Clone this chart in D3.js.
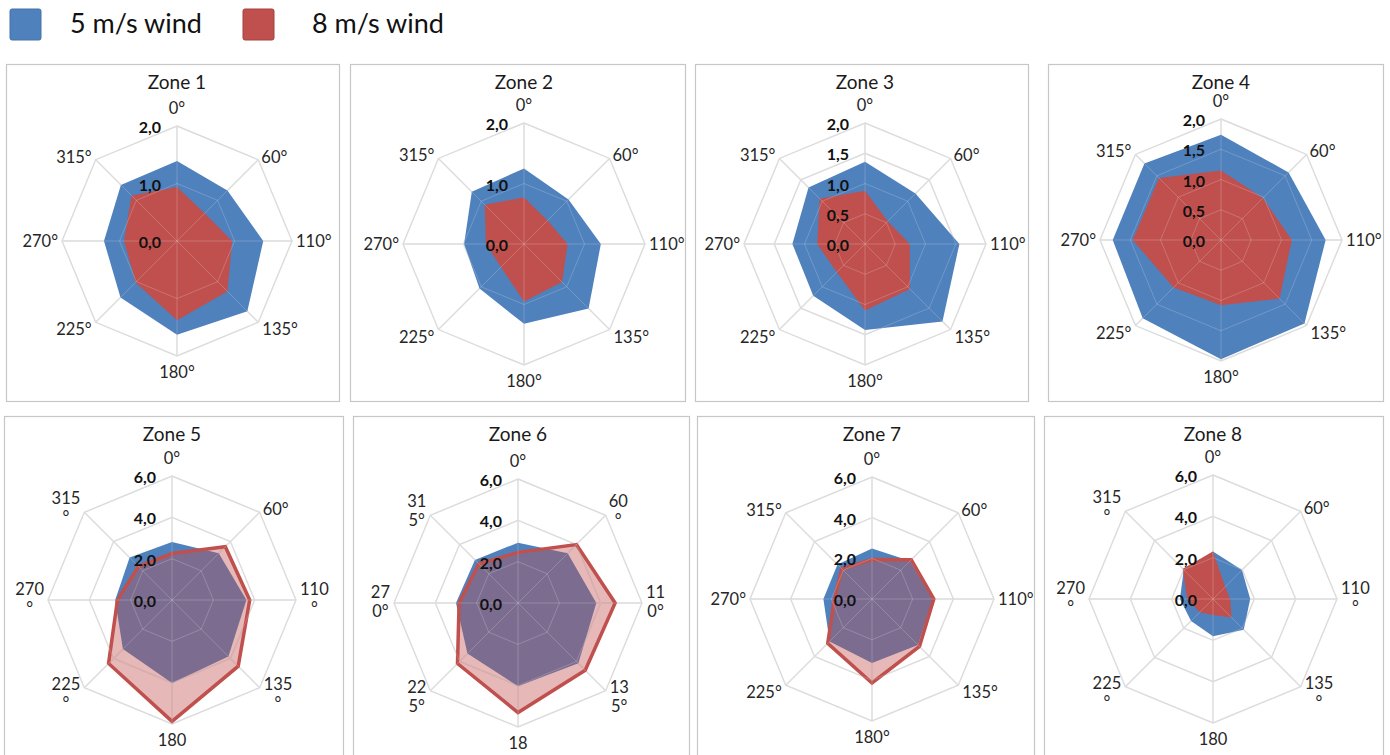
<!DOCTYPE html>
<html><head><meta charset="utf-8">
<script src="https://cdn.jsdelivr.net/npm/d3@7"></script>
<style>body{margin:0;background:#fff}svg{display:block}</style>
</head><body>
<svg id="c" width="1390" height="755"></svg>
<script>
// ---------- data ----------
const directions = ["0°","60°","110°","135°","180°","225°","270°","315°"];
const zoneNames = ["Zone 1","Zone 2","Zone 3","Zone 4","Zone 5","Zone 6","Zone 7","Zone 8"];
const seriesNames = ["5 m/s wind","8 m/s wind"];

const zone1_5 = [1.39, 1.24, 1.50, 1.73, 1.63, 1.39, 1.27, 1.38];
const zone1_8 = [0.94, 0.68, 0.96, 1.24, 1.38, 1.02, 0.92, 1.12];
const zone2_5 = [1.25, 1.04, 1.27, 1.51, 1.32, 1.04, 0.99, 1.22];
const zone2_8 = [0.77, 0.55, 0.72, 0.89, 0.95, 0.54, 0.63, 0.92];
const zone3_5 = [1.36, 1.18, 1.56, 1.81, 1.42, 1.21, 1.20, 1.32];
const zone3_8 = [0.88, 0.53, 0.74, 1.05, 1.10, 0.66, 0.79, 1.06];
const zone4_5 = [1.74, 1.58, 1.73, 1.95, 1.97, 1.83, 1.79, 1.79];
const zone4_8 = [1.15, 0.98, 1.17, 1.37, 1.08, 1.11, 1.46, 1.45];
const zone5_5 = [2.81, 3.20, 3.60, 3.86, 4.02, 3.36, 2.75, 2.90];
const zone5_8 = [2.25, 3.65, 3.76, 4.53, 5.87, 4.34, 2.64, 2.30];
const zone6_5 = [2.92, 3.40, 3.79, 4.13, 4.03, 3.46, 3.00, 2.95];
const zone6_8 = [2.45, 4.00, 4.70, 4.60, 5.30, 4.14, 2.85, 2.68];
const zone7_5 = [2.48, 2.65, 3.00, 3.20, 3.15, 2.95, 2.39, 2.40];
const zone7_8 = [1.94, 2.73, 3.04, 3.30, 4.13, 3.08, 1.85, 2.10];
const zone8_5 = [2.30, 1.98, 1.80, 2.10, 1.80, 1.50, 1.60, 2.00];
const zone8_8 = [2.30, 0.83, 0.83, 1.27, 0.78, 0.90, 1.25, 2.07];

const ticksSmall = [0, 1, 2];
const ticksHalf = [0, 0.5, 1, 1.5, 2];
const ticksLarge = [0, 2, 4, 6];

// direction labels as they wrap (and are visible) in the original panels
const labelsZone5 = ["0°","60°","110\n°","135\n°","180","225\n°","270\n°","315\n°"];
const labelsZone6 = ["0°","60\n°","11\n0°","13\n5°","18","22\n5°","27\n0°","31\n5°"];
const labelsZone8 = ["0°","60°","110\n°","135\n°","180","225\n°","270\n°","315\n°"];

const values5 = [zone1_5, zone2_5, zone3_5, zone4_5, zone5_5, zone6_5, zone7_5, zone8_5];
const values8 = [zone1_8, zone2_8, zone3_8, zone4_8, zone5_8, zone6_8, zone7_8, zone8_8];
const zoneTicks = [ticksSmall, ticksSmall, ticksHalf, ticksHalf, ticksLarge, ticksLarge, ticksLarge, ticksLarge];
const zoneLabels = [directions, directions, directions, directions, labelsZone5, labelsZone6, directions, labelsZone8];

// ---------- layout / style ----------
const layout = [
  {box:[6,64,333,337],  cx:177,  cy:241, R:115, ty:89,  red:"solid"},
  {box:[350,64,335,337],cx:524,  cy:244, R:121, ty:89,  red:"solid"},
  {box:[695,64,333,337],cx:865,  cy:244, R:121, ty:89,  red:"solid"},
  {box:[1048,64,335,337],cx:1221,cy:240, R:121, ty:89,  red:"solid"},
  {box:[4,416,339,360], cx:172,  cy:600, R:124, ty:441, red:"outline"},
  {box:[353,416,336,360],cx:518, cy:603, R:124, ty:441, red:"outline"},
  {box:[697,416,337,360],cx:872, cy:599, R:122, ty:441, red:"outline"},
  {box:[1044,416,339,360],cx:1213,cy:599,R:124, ty:441, red:"solid"}
];
const BLUE = "#4f81bd", RED = "#c0504d";
const FONT = "Lato, 'Open Sans', 'DejaVu Sans', sans-serif";

const svg = d3.select("#c");

// legend
const leg = svg.append("g");
[[10, 70], [243, 312]].forEach((p, i) => {
  leg.append("rect").attr("x", p[0]).attr("y", 9).attr("width", 31).attr("height", 31).attr("rx", 2)
    .attr("fill", i ? RED : BLUE).attr("stroke", i ? "#a5403d" : "#4572a7").attr("stroke-width", 1);
  leg.append("text").attr("x", p[1]).attr("y", 33).attr("font-family", FONT).attr("font-size", 27)
    .attr("fill", "#111").text(seriesNames[i]);
});

const angle = d3.scalePoint().domain(d3.range(directions.length)).range([0, 2 * Math.PI * 7 / 8]);
const fmt = v => d3.format(".1f")(v).replace(".", ",");

const offs = [
  {a:"middle", dx:0,  dy:-12},
  {a:"start",  dx:3,  dy:3},
  {a:"start",  dx:4,  dy:6},
  {a:"start",  dx:4,  dy:13},
  {a:"middle", dx:0,  dy:22},
  {a:"end",    dx:-4, dy:13},
  {a:"end",    dx:-4, dy:6},
  {a:"end",    dx:-4, dy:3}
];

zoneNames.forEach((name, zi) => {
  const L = layout[zi];
  const ticks = zoneTicks[zi];
  const max = d3.max(ticks);
  const r = d3.scaleLinear().domain([0, max]).range([0, L.R]);
  const g = svg.append("g");

  g.append("rect").attr("x", L.box[0] + 0.5).attr("y", L.box[1] + 0.5)
    .attr("width", L.box[2]).attr("height", L.box[3])
    .attr("fill", "#fff").attr("stroke", "#c6c6c6").attr("stroke-width", 1.2);

  const c = g.append("g").attr("transform", `translate(${L.cx},${L.cy})`);
  const ringLine = t => d3.lineRadial().curve(d3.curveLinearClosed)
    .angle(j => angle(j)).radius(() => r(t))(d3.range(directions.length));

  function drawGrid(sel, color, w) {
    ticks.filter(t => t > 0).forEach(t => {
      sel.append("path").attr("d", ringLine(t)).attr("fill", "none").attr("stroke", color).attr("stroke-width", w);
    });
    d3.range(directions.length).forEach(j => {
      const a = angle(j);
      sel.append("line").attr("x1", 0).attr("y1", 0)
        .attr("x2", r(max) * Math.sin(a)).attr("y2", -r(max) * Math.cos(a))
        .attr("stroke", color).attr("stroke-width", w);
    });
  }
  drawGrid(c.append("g"), "#d9d9d9", 1.4);

  const area = d3.lineRadial().curve(d3.curveLinearClosed)
    .angle((d, j) => angle(j)).radius(d => r(d));

  c.append("path").attr("d", area(values5[zi])).attr("fill", BLUE);
  if (L.red === "solid") {
    c.append("path").attr("d", area(values8[zi])).attr("fill", RED);
  } else {
    c.append("path").attr("d", area(values8[zi])).attr("fill", RED).attr("fill-opacity", 0.4)
      .attr("stroke", RED).attr("stroke-width", 3.5).attr("stroke-linejoin", "miter");
  }
  // faint grid showing through the fills
  drawGrid(c.append("g"), "rgba(235,235,235,0.22)", 1);

  // value tick labels
  ticks.forEach(t => {
    c.append("text").attr("x", -16).attr("y", -r(t) + 7).attr("text-anchor", "end")
      .attr("font-family", FONT).attr("font-size", 16).attr("font-weight", "bold")
      .attr("fill", "#111").text(fmt(t));
  });

  // direction labels
  zoneLabels[zi].forEach((lab, j) => {
    const a = angle(j);
    const vx = L.R * Math.sin(a), vy = -L.R * Math.cos(a);
    const o = offs[j];
    const lines = lab.split("\n");
    const multi = lines.length > 1;
    const baseY = vy + o.dy + (multi && j !== 0 && j !== 4 ? -11 : 0);
    const t = c.append("text").attr("font-family", FONT).attr("font-size", 16.5)
      .attr("fill", "#262626").attr("text-anchor", "middle");
    const spans = lines.map((ln, k) => t.append("tspan").attr("y", baseY + k * 19).text(ln));
    const w = d3.max(spans, s => s.node().getComputedTextLength());
    const cxText = vx + o.dx + (o.a === "start" ? w / 2 : o.a === "end" ? -w / 2 : 0);
    spans.forEach(s => s.attr("x", cxText));
  });

  g.append("text").attr("x", L.cx).attr("y", L.ty).attr("text-anchor", "middle")
    .attr("font-family", FONT).attr("font-size", 19).attr("fill", "#1a1a1a").text(name);
});
</script>
</body></html>
